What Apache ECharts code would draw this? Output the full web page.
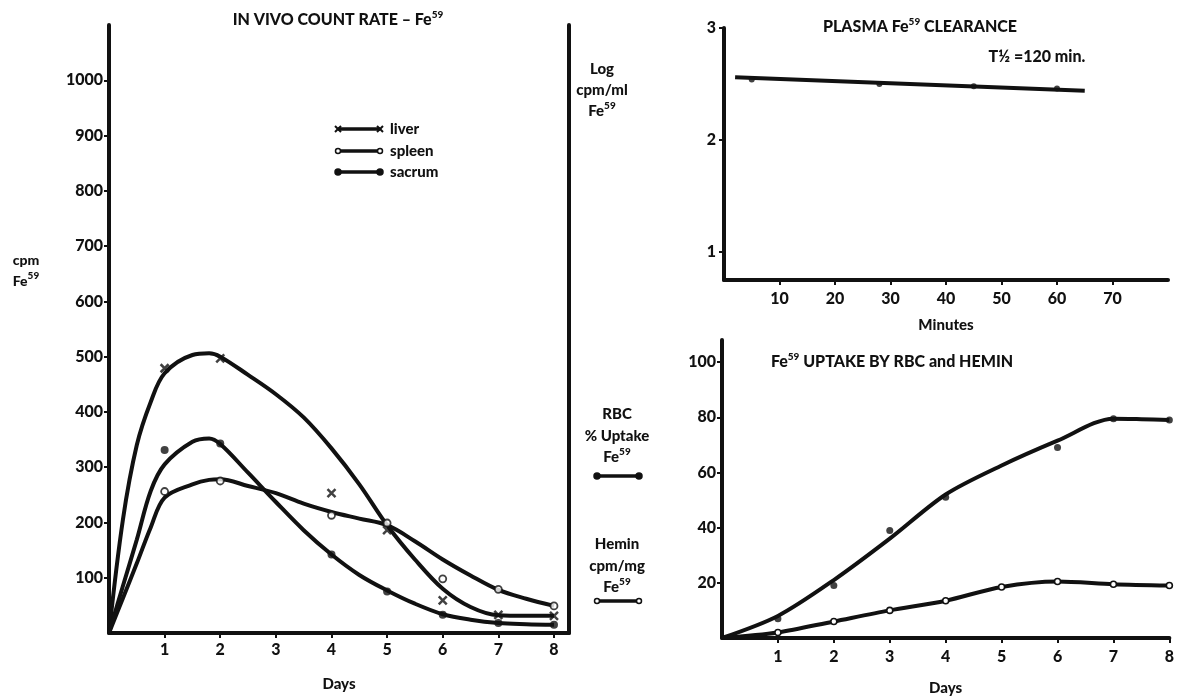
<!DOCTYPE html>
<html lang="en">
<head>
<meta charset="UTF-8">
<title>Fe59 kinetics</title>
<script src="https://cdn.jsdelivr.net/npm/echarts@6/dist/echarts.min.js"></script>
<style>
  html, body { margin: 0; padding: 0; background: #fff; }
  #main { width: 1177px; height: 697px; }
</style>
</head>
<body>
<div id="main"></div>
<script>
// ---- in vivo count rate (cpm Fe59) ----
var obsDays = [1, 2, 4, 5, 6, 7, 8];
var liverObs = [479, 497, 253, 186, 59, 33, 31];
var spleenObs = [256, 275, 213, 199, 98, 79, 49];
var sacrumObs = [331, 343, 142, 75, 33, 18, 15];

// hand-drawn fitted curves
var curveDays = [0, 0.25, 0.5, 0.75, 1, 1.5, 1.8, 2, 2.5, 3, 3.5, 4, 4.5, 5, 5.5, 6, 6.5, 7, 7.5, 8];
var liverCurve = [0, 205, 340, 418, 470, 503, 506, 500, 467, 432, 390, 334, 269, 195, 133, 80, 47, 32, 31, 31];
var spleenCurve = [0, 63, 126, 191, 245, 269, 277, 278, 266, 253, 234, 219, 207, 195, 166, 133, 104, 78, 62, 49];
var sacrumCurve = [0, 85, 169, 257, 305, 346, 352, 342, 290, 237, 186, 142, 105, 77, 53, 34, 24, 18, 16, 15];

// ---- plasma clearance (log cpm/ml) ----
var plasmaMin = [5, 28, 45, 60];
var plasmaLog = [2.54, 2.50, 2.48, 2.46];
var plasmaFitMin = [2, 65];
var plasmaFitLog = [2.56, 2.44];

// ---- uptake by RBC and hemin ----
var rbcDays = [1, 2, 3, 4, 6, 7, 8];
var rbcObs = [7, 19, 39, 51, 69, 79.5, 79];
var rbcCurveDays = [0, 1, 2, 3, 4, 5, 6, 7, 7.5, 8];
var rbcCurve = [0, 8, 21, 36, 52, 62.5, 71.5, 79.5, 79.3, 79];
var heminDays = [0, 1, 2, 3, 4, 5, 6, 7, 8];
var heminObs = [0, 2, 6, 10, 13.5, 18.5, 20.5, 19.5, 19];

var leftYTicks = [100, 200, 300, 400, 500, 600, 700, 800, 900, 1000];
var dayTicks = [1, 2, 3, 4, 5, 6, 7, 8];
var minuteTicks = [10, 20, 30, 40, 50, 60, 70];
var logTicks = [1, 2, 3];
var pctTicks = [20, 40, 60, 80, 100];

function pairs(xs, ys) {
  return xs.map(function (x, i) { return [x, ys[i]]; });
}

var FONT = 'Lato';
var INK = '#111';
var crossPath = 'path://M0,0L10,10M10,0L0,10';

var supRich = {
  s: { fontSize: 10, fontWeight: 900, fontFamily: FONT, fill: INK, padding: [0, 0, 10, 0] }
};

function ticks(values, margin) {
  return {
    axisTick: { show: true, length: 5, customValues: values, lineStyle: { color: INK, width: 2 } },
    axisLabel: {
      color: INK, fontFamily: FONT, fontWeight: 900, fontSize: 16, margin: margin,
      customValues: values, formatter: function (v) { return String(v); }
    }
  };
}

function axisBase(extra) {
  var a = {
    axisLine: { show: true, lineStyle: { color: INK, width: 4 } },
    splitLine: { show: false },
    nameTextStyle: { color: INK, fontFamily: FONT, fontWeight: 900, fontSize: 15 }
  };
  for (var k in extra) a[k] = extra[k];
  return a;
}

function withTicks(extra, values, margin) {
  var t = ticks(values, margin);
  extra.axisTick = t.axisTick;
  extra.axisLabel = t.axisLabel;
  return axisBase(extra);
}

function txt(x, y, text, size, align) {
  return {
    type: 'text', x: x, y: y,
    style: {
      text: text, fill: INK, font: '900 ' + (size || 15) + 'px ' + FONT,
      textAlign: align || 'center', textVerticalAlign: 'middle', rich: supRich
    }
  };
}

function keyLine(x1, x2, y, open) {
  var items = [{
    type: 'line', shape: { x1: x1, y1: y, x2: x2, y2: y },
    style: { stroke: INK, lineWidth: 3.5 }
  }];
  [x1, x2].forEach(function (cx) {
    items.push({
      type: 'circle', shape: { cx: cx, cy: y, r: open ? 2.5 : 3 },
      style: { fill: open ? '#fff' : INK, stroke: INK, lineWidth: 1.5 }
    });
  });
  return items;
}

function crossKey(x1, x2, y) {
  var items = [{
    type: 'line', shape: { x1: x1, y1: y, x2: x2, y2: y },
    style: { stroke: INK, lineWidth: 3.5 }
  }];
  [x1, x2].forEach(function (cx) {
    items.push({ type: 'line', shape: { x1: cx - 3, y1: y - 3, x2: cx + 3, y2: y + 3 }, style: { stroke: INK, lineWidth: 2 } });
    items.push({ type: 'line', shape: { x1: cx - 3, y1: y + 3, x2: cx + 3, y2: y - 3 }, style: { stroke: INK, lineWidth: 2 } });
  });
  return items;
}

var graphics = [
  txt(338, 20, 'IN VIVO COUNT RATE – Fe{s|59}', 16),
  txt(920, 27, 'PLASMA Fe{s|59} CLEARANCE', 16),
  txt(1037, 57, 'T½ =120 min.', 16),
  txt(892, 362, 'Fe{s|59} UPTAKE BY RBC and HEMIN', 16),
  txt(26, 260, 'cpm', 14),
  txt(26, 281, 'Fe{s|59}', 14),
  txt(390, 129, 'liver', 15, 'left'),
  txt(390, 151, 'spleen', 15, 'left'),
  txt(390, 172, 'sacrum', 15, 'left'),
  txt(602, 69, 'Log', 15),
  txt(602, 90, 'cpm/ml', 15),
  txt(602, 111, 'Fe{s|59}', 15),
  txt(617, 414, 'RBC', 15),
  txt(617, 436, '% Uptake', 15),
  txt(617, 457, 'Fe{s|59}', 15),
  txt(617, 544, 'Hemin', 15),
  txt(617, 566, 'cpm/mg', 15),
  txt(617, 587, 'Fe{s|59}', 15)
];
graphics = graphics
  .concat(crossKey(338, 380, 129))
  .concat(keyLine(338, 380, 151, true))
  .concat(keyLine(338, 380, 172, false))
  .concat(keyLine(597, 639, 476, false))
  .concat(keyLine(597, 639, 601, true));

var curveLine = { color: INK, width: 4 };

var heminData = pairs(heminDays, heminObs).map(function (p, i) {
  return i === 0 ? { value: p, symbol: 'none' } : p;
});

var option = {
  animation: false,
  backgroundColor: '#fff',
  grid: [
    { left: 109, top: 25, width: 460, height: 617 },
    { left: 724, top: 28, width: 444, height: 252 },
    { left: 722, top: 340, width: 448, height: 304 }
  ],
  xAxis: [
    withTicks({ gridIndex: 0, type: 'value', min: 0, max: 8.27,
      name: 'Days', nameLocation: 'middle', nameGap: 44 }, dayTicks, 9),
    withTicks({ gridIndex: 1, type: 'value', min: 0, max: 80,
      name: 'Minutes', nameLocation: 'middle', nameGap: 38 }, minuteTicks, 11),
    withTicks({ gridIndex: 2, type: 'value', min: 0, max: 8,
      name: 'Days', nameLocation: 'middle', nameGap: 43 }, dayTicks, 11)
  ],
  yAxis: [
    withTicks({ gridIndex: 0, type: 'value', min: 0, max: 1100 }, leftYTicks, 6),
    axisBase({ gridIndex: 0, type: 'value', min: 0, max: 1100, position: 'right',
      axisTick: { show: false }, axisLabel: { show: false } }),
    withTicks({ gridIndex: 1, type: 'value', min: 0.75, max: 3 }, logTicks, 8),
    withTicks({ gridIndex: 2, type: 'value', min: 0, max: 108 }, pctTicks, 6)
  ],
  graphic: graphics,
  series: [
    // left chart curves
    { name: 'liver', type: 'line', xAxisIndex: 0, yAxisIndex: 0, smooth: 0.35, showSymbol: false,
      lineStyle: curveLine, data: pairs(curveDays, liverCurve) },
    { name: 'spleen', type: 'line', xAxisIndex: 0, yAxisIndex: 0, smooth: 0.35, showSymbol: false,
      lineStyle: curveLine, data: pairs(curveDays, spleenCurve) },
    { name: 'sacrum', type: 'line', xAxisIndex: 0, yAxisIndex: 0, smooth: 0.35, showSymbol: false,
      lineStyle: curveLine, data: pairs(curveDays, sacrumCurve) },
    // left chart observations
    { name: 'liver obs', type: 'scatter', xAxisIndex: 0, yAxisIndex: 0, z: 5,
      symbol: crossPath, symbolSize: 8,
      itemStyle: { color: 'rgba(0,0,0,0)', borderColor: INK, borderWidth: 2.5 },
      data: pairs(obsDays, liverObs) },
    { name: 'spleen obs', type: 'scatter', xAxisIndex: 0, yAxisIndex: 0, z: 5,
      symbol: 'circle', symbolSize: 7,
      itemStyle: { color: '#fff', borderColor: INK, borderWidth: 1.8 },
      data: pairs(obsDays, spleenObs) },
    { name: 'sacrum obs', type: 'scatter', xAxisIndex: 0, yAxisIndex: 0, z: 5,
      symbol: 'circle', symbolSize: 8,
      itemStyle: { color: INK },
      data: pairs(obsDays, sacrumObs) },
    // plasma clearance
    { name: 'plasma fit', type: 'line', xAxisIndex: 1, yAxisIndex: 2, showSymbol: false,
      lineStyle: curveLine, data: pairs(plasmaFitMin, plasmaFitLog) },
    { name: 'plasma', type: 'scatter', xAxisIndex: 1, yAxisIndex: 2, z: 5,
      symbol: 'circle', symbolSize: 6, itemStyle: { color: INK },
      data: pairs(plasmaMin, plasmaLog) },
    // uptake
    { name: 'RBC', type: 'line', xAxisIndex: 2, yAxisIndex: 3, smooth: 0.3, showSymbol: false,
      lineStyle: curveLine, data: pairs(rbcCurveDays, rbcCurve) },
    { name: 'RBC obs', type: 'scatter', xAxisIndex: 2, yAxisIndex: 3, z: 5,
      symbol: 'circle', symbolSize: 7, itemStyle: { color: INK },
      data: pairs(rbcDays, rbcObs) },
    { name: 'Hemin', type: 'line', xAxisIndex: 2, yAxisIndex: 3, smooth: 0.3,
      symbol: 'circle', symbolSize: 6, showSymbol: true,
      itemStyle: { color: '#fff', borderColor: INK, borderWidth: 1.6 },
      lineStyle: curveLine, data: heminData }
  ]
};

var chart = echarts.init(document.getElementById('main'));
chart.setOption(option);
</script>
</body>
</html>
